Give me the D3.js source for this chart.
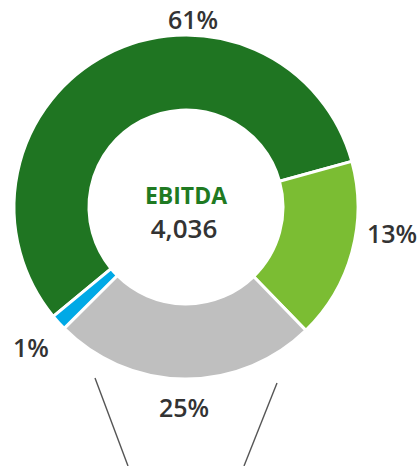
<!DOCTYPE html>
<html>
<head>
<meta charset="utf-8">
<script src="https://cdn.jsdelivr.net/npm/d3@7"></script>
<style>
    body { margin: 0; background: #fff; }
    text { font-family: "Open Sans", sans-serif; font-weight: 600; fill: #333; }
</style>
</head>
<body>
<div id="chart"></div>
<script>
// slice shares as drawn (degrees of the ring, in percent)
const segments = ["Segment A", "Segment B", "Segment C", "Segment D"];
const shares = [56.7, 17.0, 24.8, 1.5];
const shareLabels = ["61%", "13%", "25%", "1%"];
const colors = ["#1f7522", "#7bbd33", "#bfbfbf", "#00a9e6"];

const centerTitle = "EBITDA";
const centerValue = "4,036";

// label anchor points (x, baseline) for each slice
const labelPos = [[193, 29], [392, 243], [184, 417], [31, 357]];

const W = 418, H = 466;
const cx = 186, cy = 207;
const outerR = 172, innerR = 97;

const svg = d3.select("#chart").append("svg")
    .attr("width", W).attr("height", H);

/* connector lines under the ring */
const guide = svg.append("g").attr("stroke", "#555").attr("stroke-width", 1.4);
guide.append("line").attr("x1", 95).attr("y1", 378).attr("x2", 128).attr("y2", H);
guide.append("line").attr("x1", 277).attr("y1", 383).attr("x2", 244).attr("y2", H);

const start = -129.5 * Math.PI / 180;
const pie = d3.pie().sort(null)
    .startAngle(start).endAngle(start + 2 * Math.PI)
    .value(d => d);
const arc = d3.arc().innerRadius(innerR).outerRadius(outerR);

const ring = svg.append("g").attr("transform", `translate(${cx},${cy})`);
ring.selectAll("path")
    .data(pie(shares))
    .join("path")
    .attr("d", arc)
    .attr("fill", (d, i) => colors[i])
    .attr("stroke", "#fff")
    .attr("stroke-width", 3)
    .attr("stroke-linejoin", "miter");

/* percentage labels */
svg.append("g").selectAll("text")
    .data(shareLabels)
    .join("text")
    .attr("x", (d, i) => labelPos[i][0])
    .attr("y", (d, i) => labelPos[i][1])
    .attr("text-anchor", "middle")
    .style("font-size", "25px")
    .text(d => d);

/* centre text */
svg.append("text")
    .attr("x", cx).attr("y", 204)
    .attr("text-anchor", "middle")
    .style("font-size", "23px")
    .style("font-weight", 700)
    .style("fill", "#1f7a22")
    .text(centerTitle);
svg.append("text")
    .attr("x", cx - 2).attr("y", 238)
    .attr("text-anchor", "middle")
    .style("font-size", "26px")
    .text(centerValue);
</script>
</body>
</html>
